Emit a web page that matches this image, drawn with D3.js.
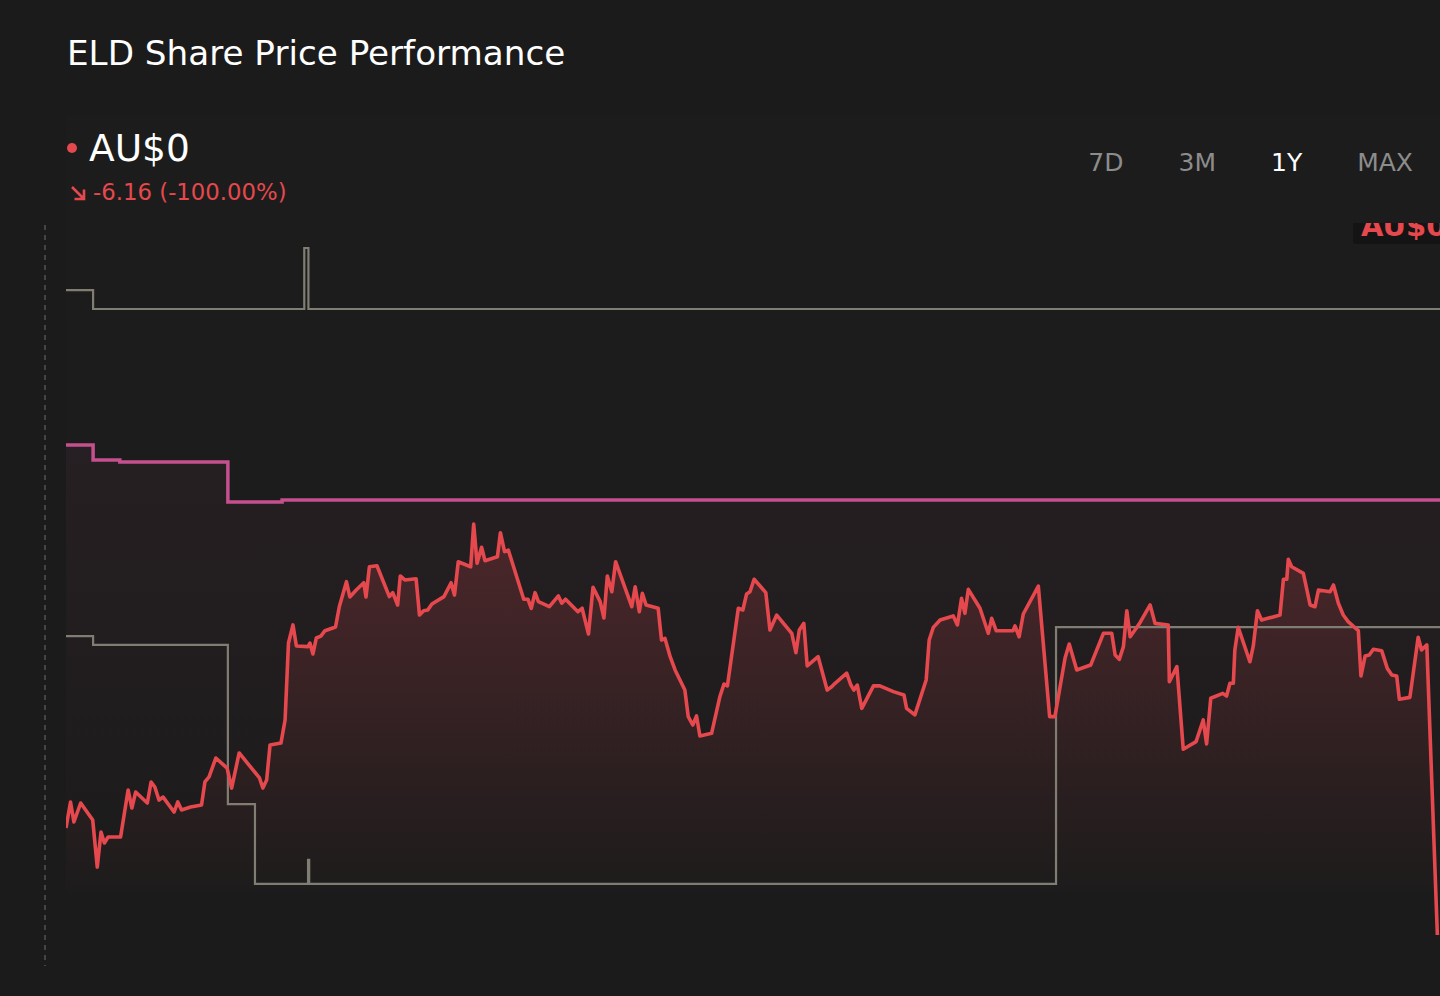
<!DOCTYPE html>
<html>
<head>
<meta charset="utf-8">
<script src="https://cdn.jsdelivr.net/npm/d3@7"></script>
<style>
  html, body { margin: 0; padding: 0; background: #1b1b1b; }
  svg { display: block; }
  text { font-family: "DejaVu Sans", sans-serif; }
</style>
</head>
<body>
<svg id="chart" width="1440" height="996"></svg>
<script>
// ---------- data ----------
const title = "ELD Share Price Performance";
const lastPriceLabel = "AU$0";
const changeLabel = "-6.16 (-100.00%)";
const rangeLabels = ["7D", "3M", "1Y", "MAX"];
const activeRange = "1Y";

// ELD share price (AU$), day offset within the 1-year window
const priceDays = [0,1.2,2.1,3.9,7.1,8.3,9.3,10.2,11.2,14.5,
16.5,17.5,18.5,21.6,22.6,23.6,24.7,25.8,28.7,29.7,
30.7,33.1,36.0,36.9,38.0,39.8,42.8,44.0,46.0,51.4,
52.3,53.3,54.2,57.1,58.2,59.1,60.3,61.2,64.3,64.8,
65.6,66.5,67.7,68.8,71.6,72.6,74.5,75.4,77.1,79.1,
79.7,80.6,82.6,85.9,86.8,88.1,88.8,90.0,93.0,93.9,
95.0,96.1,97.2,100.4,102.3,103.2,104.2,107.5,108.3,109.2,
110.4,111.3,114.6,115.4,116.5,117.5,121.6,122.7,123.6,124.6,
125.5,128.4,130.8,131.7,132.7,136.0,137.1,138.8,140.0,141.9,
142.9,143.8,145.0,146.0,150.3,151.2,152.3,153.1,154.1,157.3,
158.2,159.1,160.5,161.8,164.4,165.3,166.5,167.5,168.4,171.5,
173.7,174.8,175.7,178.6,179.8,180.8,181.7,182.8,185.9,187.0,
188.8,192.8,193.9,194.8,196.0,196.9,199.8,202.2,203.4,204.3,
207.4,208.5,209.3,210.2,211.4,214.5,216.2,219.8,222.6,223.3,
225.5,228.5,229.3,230.4,232.2,235.7,236.8,237.9,238.8,239.7,
242.8,245.0,245.9,247.1,251.6,252.1,253.2,254.3,258.3,261.3,
262.7,265.4,266.5,268.5,272.2,275.6,277.8,278.7,279.8,280.9,
281.8,282.7,285.3,288.0,289.3,292.8,293.1,295.1,296.8,300.2,
302.1,303.0,304.1,307.3,308.3,309.2,310.1,310.5,311.4,314.5,
315.4,316.5,317.6,322.5,323.4,324.3,324.7,325.6,328.7,330.5,
331.8,332.7,335.8,336.7,338.0,339.3,340.6,343.3,344.0,345.1,
346.2,347.3,349.5,351.0,352.2,353.5,354.2,357.0,359.2,360.1,
361.5,364.3];
const priceValues = [6.16,7.66,6.51,7.60,6.62,3.91,5.93,5.30,5.64,5.64,
8.35,7.31,8.23,7.60,8.81,8.52,7.77,7.94,7.08,7.66,
7.20,7.37,7.48,8.81,9.10,10.19,9.61,8.46,10.48,9.04,
8.46,8.92,10.94,11.05,12.38,16.81,17.85,16.64,16.60,16.81,
16.18,17.10,17.21,17.52,17.73,18.90,20.34,19.46,19.86,20.28,
19.46,21.20,21.26,19.48,19.71,19.00,20.67,20.44,20.51,18.42,
18.67,18.71,19.06,19.48,20.28,19.57,21.49,21.20,23.66,21.40,
22.32,21.55,21.78,23.16,22.07,22.16,19.33,19.33,18.81,19.71,
19.19,18.90,19.52,19.10,19.33,18.61,18.81,17.33,20.02,19.19,
18.25,20.67,19.76,21.49,18.90,20.05,18.61,19.67,19.00,18.81,
16.98,17.08,16.02,15.26,14.10,12.57,12.09,12.61,11.46,11.61,
13.72,14.45,14.34,18.81,18.71,19.63,19.76,20.48,19.71,17.56,
18.42,17.37,16.25,17.56,17.94,15.49,16.02,14.10,14.29,14.49,
15.07,14.39,14.10,14.39,13.05,14.34,14.34,14.01,13.82,13.05,
12.67,14.68,16.98,17.71,18.13,18.37,17.85,19.38,18.52,19.90,
18.81,17.37,18.23,17.52,17.52,17.79,17.17,18.48,20.09,12.57,
12.57,15.95,16.75,15.26,15.54,17.37,17.37,16.12,15.87,16.60,
18.67,17.17,17.98,19.00,17.94,17.85,14.58,15.45,10.69,11.13,
12.38,11.00,13.63,13.91,13.76,14.49,14.49,16.41,17.71,15.73,
16.64,18.67,18.13,18.42,20.48,20.48,21.63,21.20,20.82,19.00,
18.90,19.86,19.76,20.15,19.10,18.42,18.04,17.52,14.91,16.06,
16.12,16.45,16.37,15.35,14.97,14.91,13.57,13.68,17.14,16.41,
16.70,0];

// upper grey step series
const upperDays   = [0, 7.2, 63.3, 64.4, 365];
const upperValues = [37.13, 36.04, 39.55, 36.04, 36.04];
// pink step series
const pinkDays    = [0, 7.2, 14.3, 43.0, 57.4, 365];
const pinkValues  = [28.21, 27.35, 27.23, 24.93, 25.04, 25.04];
// lower grey step series
const lowerDays   = [0, 7.2, 43.0, 50.2, 64.3, 64.6, 263.0, 365];
const lowerValues = [17.21, 16.70, 7.54, 2.94, 4.32, 2.94, 17.73, 17.73];

// ---------- layout ----------
const W = 1440, H = 996;
const plotLeft = 66, plotRight = 1440, plotTop = 115, baseY = 935, fillBottom = 905;
const svg = d3.select("#chart");

const x = d3.scaleLinear().domain([0, 365]).range([plotLeft, plotRight]);
const y = d3.scaleLinear().domain([0, 40]).range([baseY, baseY - 40 * 107 / 6.16]);

const toPts = (ds, vs) => d3.zip(ds, vs).map(([d, v]) => ({ d, v }));
const price = toPts(priceDays, priceValues);
const upper = toPts(upperDays, upperValues);
const pink = toPts(pinkDays, pinkValues);
const lower = toPts(lowerDays, lowerValues);

svg.append("rect").attr("width", W).attr("height", H).attr("fill", "#1b1b1b");

const defs = svg.append("defs");
function grad(id, color, y1, y2, o1, o2) {
  const g = defs.append("linearGradient").attr("id", id)
    .attr("gradientUnits", "userSpaceOnUse")
    .attr("x1", 0).attr("x2", 0).attr("y1", y1).attr("y2", y2);
  g.append("stop").attr("offset", 0).attr("stop-color", color).attr("stop-opacity", o1);
  g.append("stop").attr("offset", 1).attr("stop-color", color).attr("stop-opacity", o2);
}
grad("gUpper", "#b08070", plotTop, fillBottom, 0.012, 0.0);
grad("gPink", "#c4508e", y(28), fillBottom, 0.06, 0.0);
grad("gRed", "#e5484d", y(23), fillBottom, 0.2, 0.0);

defs.append("clipPath").attr("id", "plotClip")
  .append("rect").attr("x", plotLeft).attr("y", plotTop)
  .attr("width", plotRight - plotLeft).attr("height", H - plotTop);

const g = svg.append("g").attr("clip-path", "url(#plotClip)");

// faint background fills
g.append("path").datum(upper).attr("d", d3.area().curve(d3.curveStepAfter)
  .x(p => x(p.d)).y0(fillBottom).y1(plotTop)).attr("fill", "url(#gUpper)");
g.append("path").datum(pink).attr("d", d3.area().curve(d3.curveStepAfter)
  .x(p => x(p.d)).y0(fillBottom).y1(p => y(p.v))).attr("fill", "url(#gPink)");

g.append("path").datum(price)
  .attr("d", d3.area().x(p => x(p.d)).y0(fillBottom).y1(p => Math.min(y(p.v), fillBottom)))
  .attr("fill", "url(#gRed)");

// step lines
const stepLine = d3.line().curve(d3.curveStepAfter).x(p => x(p.d)).y(p => y(p.v));
g.append("path").datum(upper).attr("d", stepLine)
  .attr("fill", "none").attr("stroke", "#807d72").attr("stroke-width", 2.2);
g.append("path").datum(lower).attr("d", stepLine)
  .attr("fill", "none").attr("stroke", "#807d72").attr("stroke-width", 2.2);
g.append("path").datum(pink).attr("d", stepLine)
  .attr("fill", "none").attr("stroke", "#c4508e").attr("stroke-width", 3.5);

// price line
g.append("path").datum(price)
  .attr("d", d3.line().x(p => x(p.d)).y(p => y(p.v)))
  .attr("fill", "none").attr("stroke", "#e5484d").attr("stroke-width", 3.6)
  .attr("stroke-linejoin", "round");

// dashed left guide
svg.append("line").attr("x1", 45).attr("x2", 45).attr("y1", 225).attr("y2", 966)
  .attr("stroke", "#6f6f6f").attr("stroke-width", 1).attr("stroke-dasharray", "5,5");

// last-price tag (clipped at top)
defs.append("clipPath").attr("id", "tagClip")
  .append("rect").attr("x", 0).attr("y", 223).attr("width", W).attr("height", 40);
const tag = svg.append("g").attr("clip-path", "url(#tagClip)");
tag.append("rect").attr("x", 1353).attr("y", 205).attr("width", 100).attr("height", 39)
  .attr("rx", 3).attr("fill", "#141414");
tag.append("text").attr("x", 1361).attr("y", 236).attr("fill", "#e5484d")
  .attr("font-size", 29).attr("font-weight", "bold").text(lastPriceLabel);

// title
svg.append("text").attr("x", 67).attr("y", 65).attr("fill", "#ffffff")
  .attr("font-size", 34.2).text(title);

// header price
svg.append("circle").attr("cx", 72).attr("cy", 148).attr("r", 5).attr("fill", "#e5484d");
svg.append("text").attr("x", 89).attr("y", 161).attr("fill", "#ffffff")
  .attr("font-size", 37.5).text(lastPriceLabel);

// change arrow + text
svg.append("path").attr("d", "M72,187 L84,199 M84,189.5 L84,199 L74.5,199")
  .attr("fill", "none").attr("stroke", "#e5484d").attr("stroke-width", 2.6);
svg.append("text").attr("x", 93).attr("y", 200).attr("fill", "#e5484d")
  .attr("font-size", 22.8).text(changeLabel);

// range buttons: laid out right-to-left with a fixed gap
const btnGap = 55, btnRight = 1413;
const btns = svg.selectAll(".rng").data(rangeLabels).enter().append("text")
  .attr("class", "rng").attr("y", 171).attr("font-size", 25)
  .attr("fill", d => d === activeRange ? "#ffffff" : "#8c8c8c")
  .text(d => d);
let cursor = btnRight;
const nodes = btns.nodes();
for (let i = nodes.length - 1; i >= 0; i--) {
  const w = nodes[i].getComputedTextLength();
  cursor -= w;
  d3.select(nodes[i]).attr("x", cursor);
  cursor -= btnGap;
}
</script>
</body>
</html>
